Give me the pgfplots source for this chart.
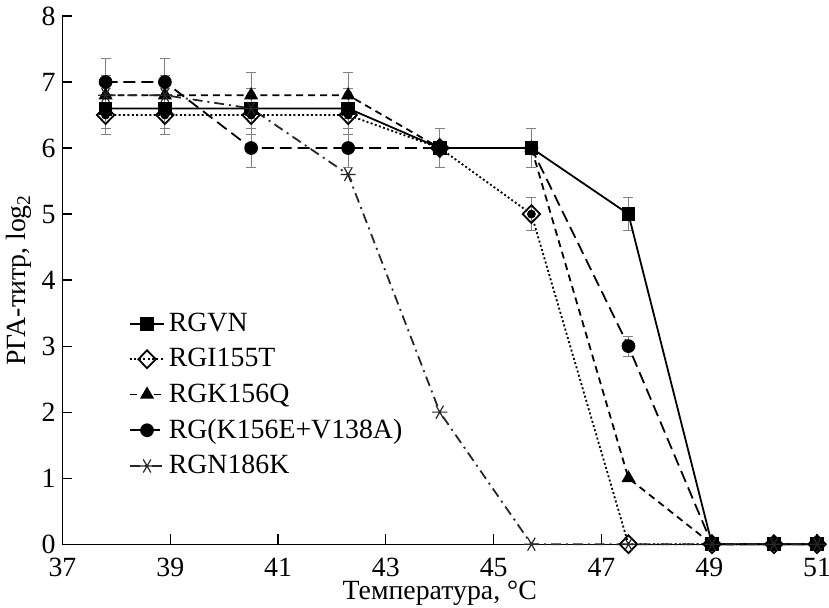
\documentclass[border=0pt]{standalone}
\usepackage{fontspec}
\setmainfont{Liberation Serif}
\usepackage{pgfplots}
\pgfplotsset{compat=1.18}
\begin{document}
\begin{tikzpicture}
\begin{axis}[
    scale only axis,
    width=380pt, height=266pt,
    xmin=37, xmax=51, ymin=0, ymax=8,
    xtick={37,39,...,51}, ytick={0,1,...,8},
    axis lines=left, axis line style={-, line width=0.6pt},
    tick align=inside, tick style={black, line width=0.6pt},
    major tick length=5pt,
    font=\fontsize{14}{16}\selectfont,
    /pgf/number format/assume math mode=true,
    xticklabel style={inner sep=1pt, yshift=-5.8pt},
    xlabel={Температура, °C},
    ylabel={РГА-титр, log\textsubscript{2}},
    xlabel style={inner sep=1pt, yshift=0.3pt},
    ylabel style={yshift=-2pt},
    clip=false,
    legend style={draw=none, fill=none, at={(0.08,0.453)}, anchor=north west,
        font=\fontsize{14}{16}\selectfont, row sep=3pt},
    legend cell align=left,
]
% error bars
\addplot[forget plot, only marks, mark=none,
    error bars/.cd, y dir=both, y explicit,
    error bar style={draw=gray, solid, line width=0.5pt},
    error mark options={draw=gray, solid, line width=0.5pt, mark size=2.5pt, rotate=90}]
    table[y error=e] {
x y e
37.8 6.6 0.3
37.8 6.5 0.3
37.8 6.8 0.3
37.8 7.0 0.35
38.9 6.6 0.3
38.9 6.5 0.3
38.9 6.8 0.3
38.9 7.0 0.35
40.5 6.6 0.3
40.5 6.5 0.3
40.5 6.8 0.35
40.5 6.0 0.3
42.3 6.6 0.3
42.3 6.5 0.3
42.3 6.8 0.35
42.3 6.0 0.3
44.0 6.0 0.3
45.7 6.0 0.3
45.7 5.0 0.25
47.5 5.0 0.25
47.5 3.0 0.15
};
\addplot[black, line width=0.9pt, mark=square*, mark size=3pt] coordinates {
    (37.8,6.6) (38.9,6.6) (40.5,6.6) (42.3,6.6) (44.0,6.0)
    (45.7,6.0) (47.5,5.0) (49.05,0) (50.2,0) (51,0)
};
\addlegendentry{RGVN}
\addplot[black, line width=0.9pt, dash pattern=on 1pt off 1.2pt,
    mark=diamond, mark size=4.5pt, mark options={solid, fill=white, xscale=1.3}] coordinates {
    (37.8,6.5) (38.9,6.5) (40.5,6.5) (42.3,6.5) (44.0,6.0)
    (45.7,5.0) (47.5,0) (49.05,0) (50.2,0) (51,0)
};
\addlegendentry{RGI155T}
\addplot[black, line width=0.9pt, dash pattern=on 3.5pt off 2.5pt,
    mark=triangle*, mark size=3.2pt, mark options={solid}] coordinates {
    (37.8,6.8) (38.9,6.8) (40.5,6.8) (42.3,6.8) (44.0,6.0)
    (45.7,6.0) (47.5,1.0) (49.05,0) (50.2,0) (51,0)
};
\addlegendentry{RGK156Q}
\addplot[black, line width=0.9pt, dash pattern=on 6pt off 3pt,
    mark=*, mark size=3pt, mark options={solid}] coordinates {
    (37.8,7.0) (38.9,7.0) (40.5,6.0) (42.3,6.0) (44.0,6.0)
    (45.7,6.0) (47.5,3.0) (49.05,0) (50.2,0) (51,0)
};
\addlegendentry{RG(K156E+V138A)}
\addplot[black!85, line width=0.9pt, dash pattern=on 5pt off 2.5pt on 1pt off 2.5pt,
    mark=asterisk, mark size=3.8pt, mark options={solid, line width=0.6pt, rotate=90}] coordinates {
    (37.8,6.8) (38.9,6.8) (40.5,6.6) (42.3,5.6) (44.0,2.0)
    (45.7,0) (47.5,0) (49.05,0) (50.2,0) (51,0)
};
\addlegendentry{RGN186K}
\end{axis}
\coordinate (R) at ([xshift=6pt]current axis.east);
\pgfresetboundingbox
\path[use as bounding box] (current axis.outer south west) rectangle (R |- current axis.outer north);
\end{tikzpicture}
\end{document}
